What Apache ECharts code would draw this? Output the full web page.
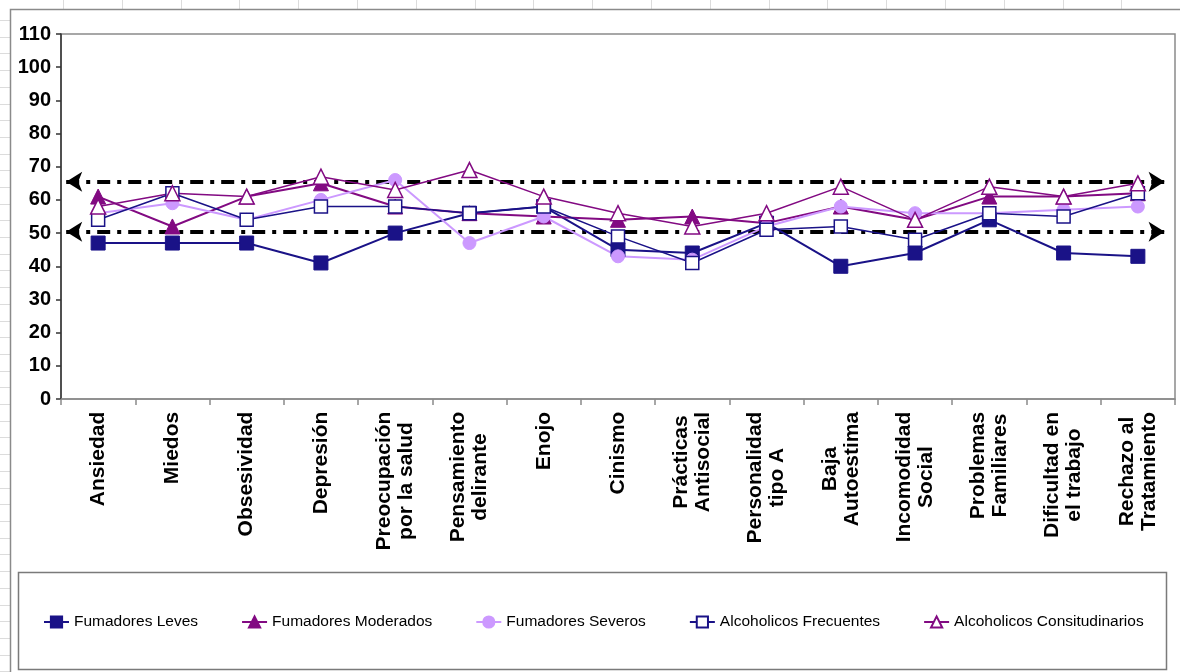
<!DOCTYPE html>
<html>
<head>
<meta charset="utf-8">
<script src="https://cdn.jsdelivr.net/npm/echarts@6/dist/echarts.min.js"></script>
<style>
  html, body { margin: 0; padding: 0; background: #ffffff; }
  #chart { width: 1180px; height: 672px; }
</style>
</head>
<body>
<div id="chart"></div>
<script>
// Scales (categories) of the profile
const categories = [
  'Ansiedad', 'Miedos', 'Obsesividad', 'Depresión',
  'Preocupación\npor la salud', 'Pensamiento\ndelirante', 'Enojo', 'Cinismo',
  'Prácticas\nAntisocial', 'Personalidad\ntipo A', 'Baja\nAutoestima',
  'Incomodidad\nSocial', 'Problemas\nFamiliares', 'Dificultad en\nel trabajo',
  'Rechazo al\nTratamiento'
];

// Scores per group
const fumadoresLeves         = [47, 47, 47, 41, 50, 56, 58, 45, 44, 53, 40, 44, 54, 44, 43];
const fumadoresModerados     = [61, 52, 61, 65, 58, 56, 55, 54, 55, 53, 58, 54, 61, 61, 62];
const fumadoresSeveros       = [56, 59, 54, 60, 66, 47, 55, 43, 42, 52, 58, 56, 56, 57, 58];
const alcoholicosFrecuentes  = [54, 62, 54, 58, 58, 56, 58, 49, 41, 51, 52, 48, 56, 55, 62];
const alcoholicosConsitud    = [58, 62, 61, 67, 63, 69, 61, 56, 52, 56, 64, 54, 64, 61, 65];

// Y axis range
const yMin = 0, yMax = 110, yStep = 10;

// Horizontal reference bands (upper / lower limit)
const referenceLevels = [65.5, 50.4];

const NAVY = '#1a1287';
const PURPLE = '#820a82';
const LILAC = '#cc99ff';
const FONT = '"Liberation Sans", Arial, sans-serif';

// Category label styling: lines of two-line labels are centred on each other
const labelFontSize = 21;
const measureCtx = document.createElement('canvas').getContext('2d');
measureCtx.font = 'bold ' + labelFontSize + 'px ' + FONT;
const rich = {};
categories.forEach((c, i) => {
  const w = Math.max(...c.split('\n').map(l => measureCtx.measureText(l).width));
  rich['c' + i] = {
    width: Math.ceil(w) + 1, align: 'center',
    fontSize: labelFontSize, fontWeight: 'bold', fontFamily: FONT,
    lineHeight: 22, color: '#000'
  };
});

// Spreadsheet cell lines around the chart object
const sheetLines = [];
for (let y = 20; y < 672; y += 16.7) {
  sheetLines.push({ type: 'line', silent: true, z: -10,
    shape: { x1: 0, y1: Math.round(y) + 0.5, x2: 10, y2: Math.round(y) + 0.5 },
    style: { stroke: '#dcdcdc', lineWidth: 1 } });
}
for (let x = 63; x < 1180; x += 58.8) {
  sheetLines.push({ type: 'line', silent: true, z: -10,
    shape: { x1: Math.round(x) + 0.5, y1: 0, x2: Math.round(x) + 0.5, y2: 9 },
    style: { stroke: '#dcdcdc', lineWidth: 1 } });
}

const chart = echarts.init(document.getElementById('chart'), null, { renderer: 'canvas' });

function seriesBase(name, data, color, symbol, size, filled, width) {
  return {
    name, type: 'line', data,
    symbol, symbolSize: size,
    showAllSymbol: true,
    lineStyle: { color, width },
    itemStyle: filled
      ? { color, borderColor: color, borderWidth: 1 }
      : { color: '#ffffff', borderColor: color, borderWidth: 1.5 },
    emphasis: { disabled: true },
    z: 3
  };
}

const option = {
  animation: false,
  backgroundColor: '#ffffff',
  textStyle: { fontFamily: FONT },
  grid: {
    left: 61, right: 5, top: 34, bottom: 273,
    show: true, borderColor: '#8a8a8a', borderWidth: 1.5, backgroundColor: '#ffffff'
  },
  legend: {
    data: ['Fumadores Leves', 'Fumadores Moderados', 'Fumadores Severos',
           'Alcoholicos Frecuentes', 'Alcoholicos Consitudinarios'],
    left: 38, top: 609,
    itemWidth: 25, itemHeight: 14, itemGap: 43,
    textStyle: { fontSize: 15.5, color: '#000', fontFamily: FONT },
    selectedMode: false
  },
  xAxis: [
    {
      type: 'category', data: categories,
      boundaryGap: true,
      axisLine: { lineStyle: { color: '#8a8a8a', width: 1.5 } },
      axisTick: { show: true, length: 6, lineStyle: { color: '#8a8a8a', width: 1.5 } },
      axisLabel: {
        rotate: 90, interval: 0, margin: 12,
        formatter: (v, i) => v.split('\n').map(l => '{c' + i + '|' + l + '}').join('\n'),
        rich
      },
      splitLine: { show: false }
    },
    { type: 'value', min: 0, max: 15, show: false }
  ],
  yAxis: {
    type: 'value', min: yMin, max: yMax, interval: yStep,
    axisLine: { show: true, lineStyle: { color: '#333', width: 1.5 } },
    axisTick: { show: true, length: 5, lineStyle: { color: '#333', width: 1.5 } },
    axisLabel: { fontSize: 20, fontWeight: 'bold', color: '#000', fontFamily: FONT, margin: 10 },
    splitLine: { show: false }
  },
  graphic: [
    ...sheetLines,
    // chart object frame
    { type: 'rect', silent: true, z: -5,
      shape: { x: 10.5, y: 9.5, width: 1200, height: 700 },
      style: { fill: '#ffffff', stroke: '#8a8a8a', lineWidth: 1.5 } },
    // legend frame
    { type: 'rect', silent: true, z: 1,
      shape: { x: 18.5, y: 572.5, width: 1148, height: 97 },
      style: { fill: 'none', stroke: '#7a7a7a', lineWidth: 1.5 } }
  ],
  series: [
    {
      name: 'Límites', type: 'line', xAxisIndex: 1, data: [],
      silent: true, z: 1,
      markLine: {
        silent: true, z: 1,
        symbol: ['arrow', 'arrow'], symbolSize: [15, 16],
        label: { show: false },
        lineStyle: { color: '#000', width: 4, type: [13, 7, 4, 7] },
        emphasis: { disabled: true },
        data: referenceLevels.map(v => [{ coord: [0.07, v] }, { coord: [14.86, v] }])
      }
    },
    seriesBase('Fumadores Leves', fumadoresLeves, NAVY, 'rect', 14, true, 2),
    seriesBase('Fumadores Moderados', fumadoresModerados, PURPLE, 'triangle', 15, true, 2),
    seriesBase('Fumadores Severos', fumadoresSeveros, LILAC, 'circle', 13, true, 2),
    seriesBase('Alcoholicos Frecuentes', alcoholicosFrecuentes, NAVY, 'rect', 13, false, 1.5),
    seriesBase('Alcoholicos Consitudinarios', alcoholicosConsitud, PURPLE, 'triangle', 15, false, 1.5)
  ]
};

chart.setOption(option);
</script>
</body>
</html>
